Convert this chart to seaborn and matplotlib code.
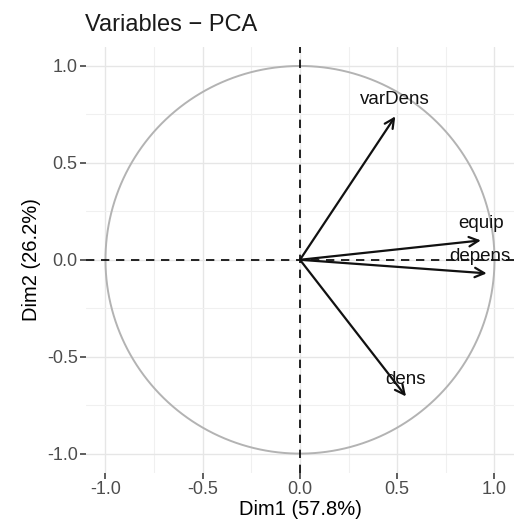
import numpy as np
import matplotlib
matplotlib.use("Agg")
import matplotlib.pyplot as plt
import seaborn as sns

# PCA variable coordinates (Dim1, Dim2)
variables = ["varDens", "equip", "depens", "dens"]
dim1 = [0.49, 0.93, 0.96, 0.545]
dim2 = [0.74, 0.10, -0.07, -0.705]
ticks = [-1.0, -0.5, 0.0, 0.5, 1.0]
minor_ticks = [-0.75, -0.25, 0.25, 0.75]

sns.set_theme(style="whitegrid")
plt.rcParams["font.family"] = ["Liberation Sans", "DejaVu Sans"]

fig = plt.figure(figsize=(5.16, 5.27), dpi=100)
ax = fig.add_axes([0.1667, 0.1025, 0.8293, 0.8091])

# Correlation circle
t = np.linspace(0, 2 * np.pi, 400)
sns.lineplot(x=np.cos(t), y=np.sin(t), sort=False, estimator=None, ax=ax,
             color="#b3b3b3", linewidth=1.4)

# Reference lines
ax.axhline(0, color="black", linestyle=(0, (5, 4)), linewidth=1.2)
ax.axvline(0, color="black", linestyle=(0, (5, 4)), linewidth=1.2)

# Arrows and labels (label nudged left near the right edge so it stays inside)
for name, x, y in zip(variables, dim1, dim2):
    ax.annotate("", xy=(x, y), xytext=(0, 0),
                arrowprops=dict(arrowstyle="->", color="#111111", lw=1.6,
                                mutation_scale=17, shrinkA=0, shrinkB=0))
    dx = -5 if x > 0.95 else 0
    ax.annotate(name, xy=(x, y), xytext=(dx, 12), textcoords="offset points",
                ha="center", va="center", fontsize=13.5, color="#111111")

ax.set_xlim(-1.1, 1.1)
ax.set_ylim(-1.1, 1.1)
ax.set_xticks(ticks)
ax.set_yticks(ticks)
ax.set_xticks(minor_ticks, minor=True)
ax.set_yticks(minor_ticks, minor=True)
ax.set_xticklabels(["%.1f" % v for v in ticks])
ax.set_yticklabels(["%.1f" % v for v in ticks])
ax.grid(True, which="major", color="#e6e6e6", linewidth=1.0)
ax.grid(True, which="minor", color="#f0f0f0", linewidth=0.8)
ax.tick_params(which="major", length=4, width=1.1, color="#333333",
               labelsize=13, labelcolor="#4d4d4d", bottom=True, left=True, pad=2)
ax.tick_params(which="minor", length=0)
for s in ax.spines.values():
    s.set_visible(False)
ax.set_facecolor("white")

ax.set_xlabel("Dim1 (57.8%)", fontsize=14.5, color="black", labelpad=1)
ax.set_ylabel("Dim2 (26.2%)", fontsize=14.5, color="black", labelpad=4)
fig.text(0.165, 0.952, "Variables \u2212 PCA", fontsize=17, color="#1a1a1a",
         ha="left", va="center")

fig.savefig("out.png", dpi=100)
